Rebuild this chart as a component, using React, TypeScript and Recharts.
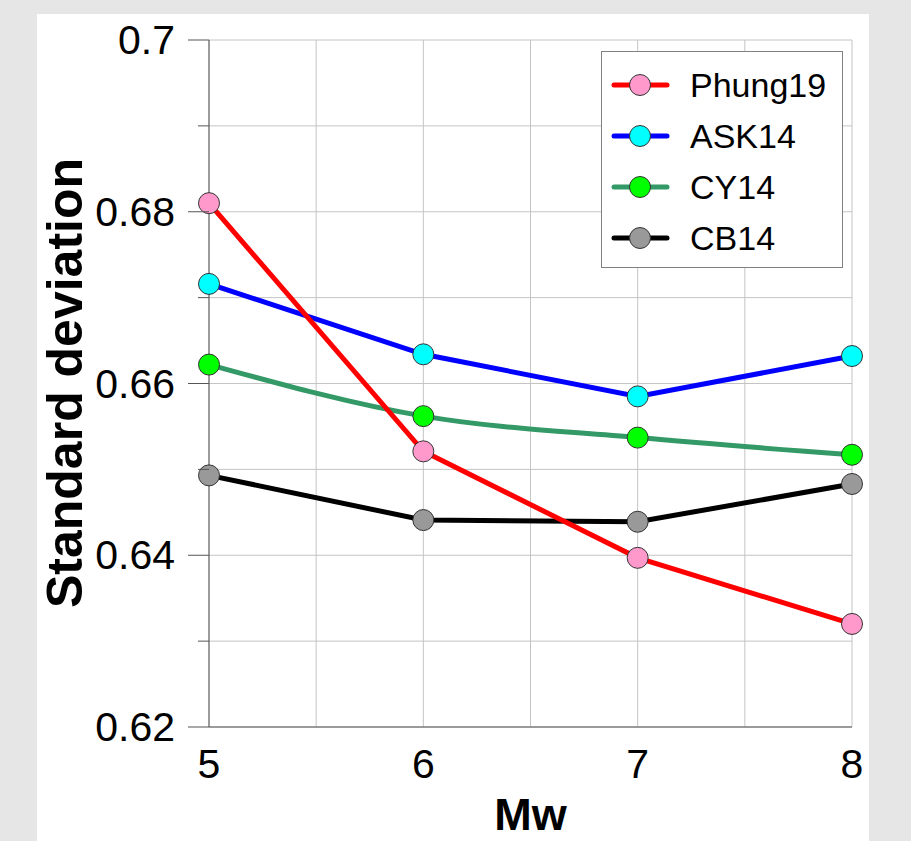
import { LineChart, Line, XAxis, YAxis, CartesianGrid, Legend, Label } from "recharts"

// Mw values and standard deviation per model
const magnitudes = [5, 6, 7, 8]
const phung19 = [0.681, 0.6521, 0.6397, 0.632]
const ask14 = [0.6716, 0.6634, 0.6585, 0.6632]
const cy14 = [0.6622, 0.6562, 0.6537, 0.6517]
const cb14 = [0.6493, 0.6441, 0.6439, 0.6483]

const xTicks = [5, 6, 7, 8]
const xGrid = [5, 5.5, 6, 6.5, 7, 7.5, 8]
const yTicks = [0.62, 0.63, 0.64, 0.65, 0.66, 0.67, 0.68, 0.69, 0.7]
const yLabels = [0.62, 0.64, 0.66, 0.68, 0.7]

const series = [
  { key: "cb14", name: "CB14", line: "#000000", dot: "#999999", type: "linear" as const },
  { key: "cy14", name: "CY14", line: "#339966", dot: "#00ff00", type: "monotone" as const },
  { key: "ask14", name: "ASK14", line: "#0000ff", dot: "#00ffff", type: "linear" as const },
  { key: "phung19", name: "Phung19", line: "#ff0000", dot: "#ff99cc", type: "linear" as const },
]
const legendOrder = ["phung19", "ask14", "cy14", "cb14"]

const data = magnitudes.map((mw, i) => ({
  mw,
  phung19: phung19[i],
  ask14: ask14[i],
  cy14: cy14[i],
  cb14: cb14[i],
}))

const font = "'Liberation Sans', Arial, sans-serif"
const axisColor = "#555555"

function YTick({ x, y, payload }: any) {
  const v = payload.value
  const major = yLabels.some((l) => Math.abs(l - v) < 1e-9)
  return (
    <g>
      <line x1={x - (major ? 21 : 11)} x2={x} y1={y} y2={y} stroke={axisColor} strokeWidth={1} />
      {major && (
        <text x={x - 34} y={y} dy={14} textAnchor="end" fontSize={41} fontFamily={font} fill="#000">
          {String(Number(v.toFixed(2)))}
        </text>
      )}
    </g>
  )
}

function XTick({ x, y, payload }: any) {
  return (
    <text x={x} y={y} dy={51} textAnchor="middle" fontSize={41} fontFamily={font} fill="#000">
      {payload.value}
    </text>
  )
}

function renderLegend() {
  return (
    <svg width={242} height={217} style={{ display: "block" }}>
      <rect x={0.5} y={0.5} width={241} height={216} fill="#fff" stroke="#808080" strokeWidth={1} />
      {legendOrder.map((k, i) => {
        const s = series.find((d) => d.key === k)!
        const cy = 34 + i * 51
        return (
          <g key={k}>
            <line x1={13} x2={66} y1={cy} y2={cy} stroke={s.line} strokeWidth={5} strokeLinecap="round" />
            <circle cx={39} cy={cy} r={10.5} fill={s.dot} stroke="#333" strokeWidth={1} />
            <text x={89} y={cy + 12} fontSize={34} fontFamily={font} fill="#000">
              {s.name}
            </text>
          </g>
        )
      })}
    </svg>
  )
}

export default function App() {
  return (
    <div style={{ position: "absolute", left: 0, top: 0, width: 911, height: 841, background: "#e6e6e6", overflow: "hidden" }}>
      <div style={{ position: "absolute", left: 37, top: 14, width: 832, height: 827, background: "#fff" }} />
      <div style={{ position: "absolute", left: 0, top: 0 }}>
        <LineChart width={911} height={841} data={data} margin={{ top: 40, right: 59, bottom: 4, left: 39 }}>
          <CartesianGrid stroke="#c4c4c4" strokeWidth={1} horizontalValues={yTicks} verticalValues={xGrid} />
          <XAxis
            dataKey="mw"
            type="number"
            domain={[5, 8]}
            ticks={xTicks}
            height={110}
            tickSize={0}
            tickMargin={0}
            tickLine={false}
            axisLine={{ stroke: axisColor, strokeWidth: 1 }}
            tick={<XTick />}
          >
            <Label
              content={({ viewBox }: any) => (
                <text
                  x={viewBox.x + viewBox.width / 2}
                  y={830}
                  textAnchor="middle"
                  fontSize={45}
                  fontWeight="bold"
                  fontFamily={font}
                  fill="#000"
                >
                  Mw
                </text>
              )}
            />
          </XAxis>
          <YAxis
            type="number"
            domain={[0.62, 0.7]}
            ticks={yTicks}
            width={170}
            tickSize={0}
            tickMargin={0}
            tickLine={false}
            allowDataOverflow
            axisLine={{ stroke: axisColor, strokeWidth: 1 }}
            tick={<YTick />}
          >
            <Label
              content={() => (
                <text
                  x={82}
                  y={383}
                  transform="rotate(-90, 82, 383)"
                  textAnchor="middle"
                  fontSize={50}
                  fontWeight="bold"
                  fontFamily={font}
                  fill="#000"
                >
                  Standard deviation
                </text>
              )}
            />
          </YAxis>
          <Legend
            layout="vertical"
            align="center"
            verticalAlign="middle"
            content={renderLegend}
            wrapperStyle={{ left: 601, top: 51, width: 242, height: 217 }}
          />
          {series.map((s) => (
            <Line
              key={s.key}
              dataKey={s.key}
              name={s.name}
              type={s.type}
              stroke={s.line}
              strokeWidth={5}
              dot={{ r: 10.5, fill: s.dot, stroke: "#333", strokeWidth: 1 }}
              activeDot={false}
              isAnimationActive={false}
            />
          ))}
        </LineChart>
      </div>
    </div>
  )
}
